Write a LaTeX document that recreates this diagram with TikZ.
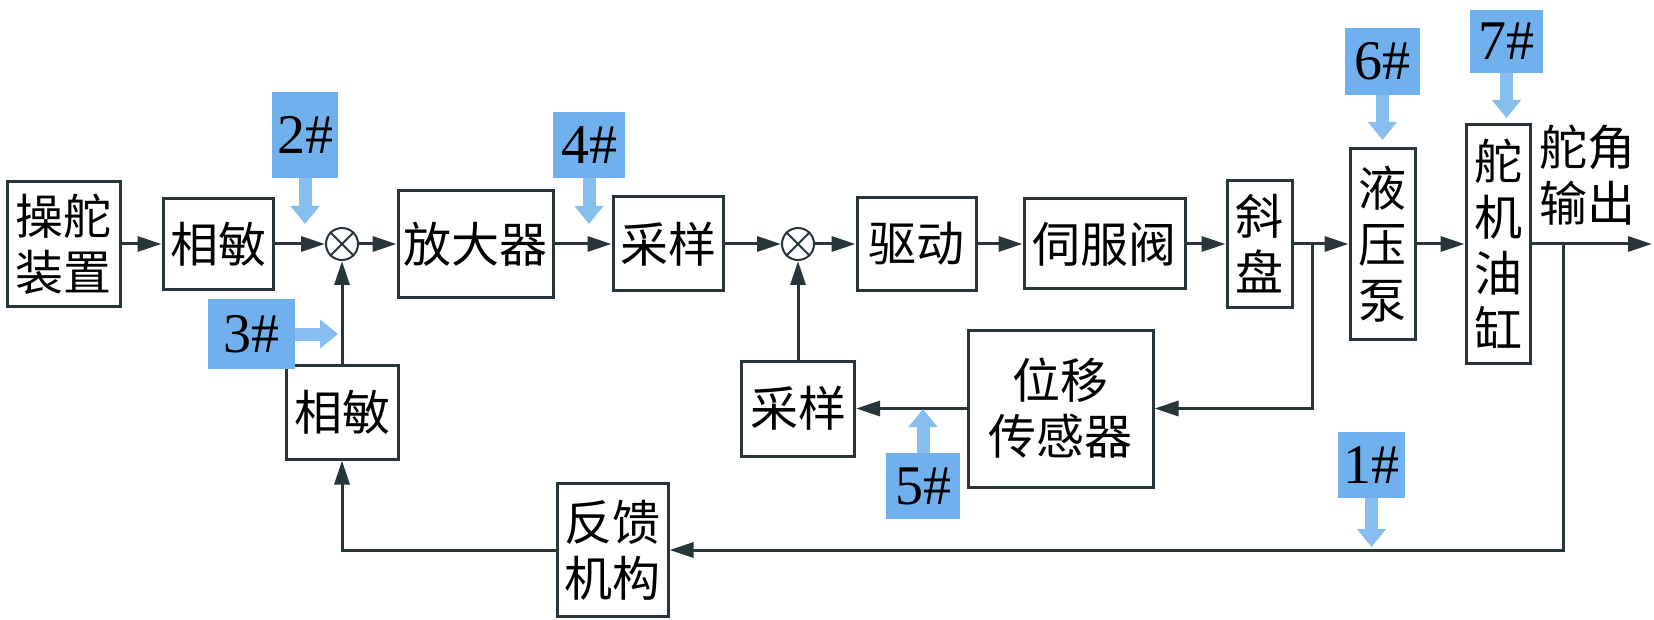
\documentclass[tikz,border=0pt]{standalone}
\usepackage{fontspec}
\setmainfont{Liberation Serif}
\newfontfamily\cjk{Noto Sans CJK SC}
\usetikzlibrary{arrows.meta}
\definecolor{ln}{RGB}{40,54,60}
\definecolor{bl}{RGB}{112,176,236}
\definecolor{bla}{RGB}{135,190,240}
\begin{document}
\begin{tikzpicture}[x=1pt,y=-1pt,
  blk/.style={draw=ln,line width=3pt,fill=white,inner sep=0pt,align=center,font=\cjk\fontsize{48}{56}\selectfont,text=black},
  sumc/.style={draw=ln,line width=2pt,circle,minimum size=32pt,inner sep=0pt,fill=white},
  conn/.style={draw=ln,line width=3pt,-{Triangle[length=24pt,width=15pt]}},
  numtag/.style={fill=bl,inner sep=0pt,font=\rmfamily\fontsize{56}{56}\selectfont,text=black},
  tagarrow/.style={draw=bla,line width=13pt,-{Triangle[length=18pt,width=28pt]}},
]
\useasboundingbox[fill=white] (0,0) rectangle (1654,620);

% main chain
\node[blk,minimum width=113pt,minimum height=124pt] (caoduo) at (63.5,244) {操舵\\装置};
\node[blk,minimum width=110pt,minimum height=91pt] (xm1) at (218,244) {相敏};
\node[sumc] (sum1) at (342,244) {};
\node[blk,minimum width=155pt,minimum height=107pt] (fdq) at (475.5,244) {放大器};
\node[blk,minimum width=110pt,minimum height=94pt] (cy1) at (668,244) {采样};
\node[sumc] (sum2) at (798,244) {};
\node[blk,minimum width=119pt,minimum height=93pt] (qd) at (916.5,244) {驱动};
\node[blk,minimum width=161pt,minimum height=90pt] (sfv) at (1104.5,244) {伺服阀};
\node[blk,minimum width=65pt,minimum height=126pt] (xp) at (1259.5,244) {斜\\盘};
\node[blk,minimum width=65pt,minimum height=190pt] (yyb) at (1382.5,244) {液\\压\\泵};
\node[blk,minimum width=64pt,minimum height=238pt] (djyg) at (1498,244) {舵\\机\\油\\缸};
\node[blk,draw=none,fill=none] (outtxt) at (1587,175) {舵角\\输出};
\coordinate (j1) at (1312,244);
\coordinate (j2) at (1563,244);
\coordinate (outend) at (1652,244);

% feedback parts
\node[blk,minimum width=185pt,minimum height=157pt] (wy) at (1060.5,408.5) {位移\\传感器};
\node[blk,minimum width=113pt,minimum height=95pt] (cy2) at (798,408.5) {采样};
\node[blk,minimum width=112pt,minimum height=94pt] (xm2) at (342,412) {相敏};
\node[blk,minimum width=111pt,minimum height=133pt] (fk) at (612.5,550) {反馈\\机构};

% crosses
\foreach \s in {sum1,sum2}{
  \draw[ln,line width=2pt] (\s.north east) -- (\s.south west) (\s.north west) -- (\s.south east);
}

% connectors
\draw[conn] (caoduo) -- (xm1);
\draw[conn] (xm1) -- (sum1);
\draw[conn] (sum1) -- (fdq);
\draw[conn] (fdq) -- (cy1);
\draw[conn] (cy1) -- (sum2);
\draw[conn] (sum2) -- (qd);
\draw[conn] (qd) -- (sfv);
\draw[conn] (sfv) -- (xp);
\draw[conn] (xp) -- (yyb);
\draw[conn] (yyb) -- (djyg);
\draw[conn] (djyg) -- (outend);
\draw[conn] (j1) |- (wy);
\draw[conn] (wy) -- (cy2);
\draw[conn] (cy2) -- (sum2);
\draw[conn] (xm2) -- (sum1);
\draw[conn] (j2) |- (fk);
\draw[conn] (fk) -| (xm2);

% blue tags
\node[numtag,minimum width=66pt,minimum height=86pt] (t2) at (305,135) {2\#};
\coordinate (t2e) at (305,224);
\draw[tagarrow] (t2) -- (t2e);
\node[numtag,minimum width=87pt,minimum height=70pt] (t3) at (251.5,334) {3\#};
\coordinate (t3e) at (338,334);
\draw[tagarrow] (t3) -- (t3e);
\node[numtag,minimum width=72pt,minimum height=66pt] (t4) at (589,145) {4\#};
\coordinate (t4e) at (589,224);
\draw[tagarrow] (t4) -- (t4e);
\node[numtag,minimum width=74pt,minimum height=66pt] (t5) at (923,486) {5\#};
\coordinate (t5e) at (923,409);
\draw[tagarrow] (t5) -- (t5e);
\node[numtag,minimum width=75pt,minimum height=67pt] (t6) at (1382.5,61.5) {6\#};
\coordinate (t6e) at (1382.5,140);
\draw[tagarrow] (t6) -- (t6e);
\node[numtag,minimum width=73pt,minimum height=63pt] (t7) at (1506.5,41.5) {7\#};
\coordinate (t7e) at (1506.5,118);
\draw[tagarrow] (t7) -- (t7e);
\node[numtag,minimum width=67pt,minimum height=66pt] (t1) at (1371.5,465) {1\#};
\coordinate (t1e) at (1371.5,547);
\draw[tagarrow] (t1) -- (t1e);
\end{tikzpicture}
\end{document}
